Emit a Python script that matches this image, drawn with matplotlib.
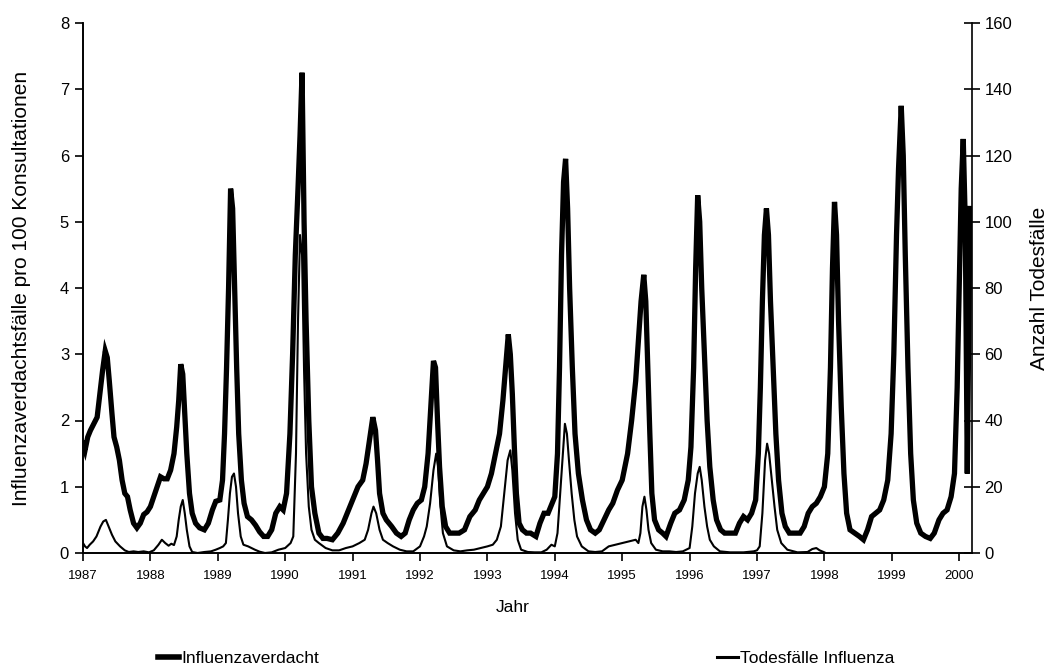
import matplotlib
matplotlib.use('Agg')
import matplotlib.pyplot as plt
from matplotlib.lines import Line2D

# Influenzaverdachtsfaelle pro 100 Konsultationen (linke Achse)
flu_year = [
    1987.00, 1987.03, 1987.07, 1987.11, 1987.16, 1987.21, 1987.25, 1987.29, 1987.33, 1987.36,
    1987.39, 1987.43, 1987.46, 1987.50, 1987.54, 1987.58, 1987.62, 1987.66, 1987.70, 1987.75,
    1987.80, 1987.85, 1987.90, 1987.95, 1988.00, 1988.05, 1988.10, 1988.15, 1988.20, 1988.25,
    1988.30, 1988.35, 1988.39, 1988.42, 1988.45, 1988.48, 1988.51, 1988.54, 1988.58, 1988.62,
    1988.67, 1988.73, 1988.80, 1988.86, 1988.92, 1988.97, 1989.03, 1989.07, 1989.10, 1989.13,
    1989.16, 1989.19, 1989.22, 1989.25, 1989.28, 1989.31, 1989.35, 1989.39, 1989.44, 1989.50,
    1989.56, 1989.62, 1989.68, 1989.74, 1989.80, 1989.86, 1989.92, 1989.97, 1990.02, 1990.07,
    1990.11, 1990.15, 1990.19, 1990.22, 1990.25, 1990.28, 1990.31, 1990.35, 1990.39, 1990.44,
    1990.50, 1990.56, 1990.62, 1990.70, 1990.78, 1990.86, 1990.94, 1991.00, 1991.08, 1991.15,
    1991.20, 1991.25, 1991.30, 1991.34, 1991.37, 1991.40, 1991.45, 1991.50, 1991.58, 1991.65,
    1991.72, 1991.78, 1991.84, 1991.90, 1991.96, 1992.02, 1992.07, 1992.12, 1992.16, 1992.20,
    1992.23, 1992.26, 1992.29, 1992.33, 1992.38, 1992.44, 1992.50, 1992.58, 1992.66, 1992.74,
    1992.82, 1992.88, 1992.94, 1993.00, 1993.06, 1993.12, 1993.18, 1993.23, 1993.27, 1993.31,
    1993.34, 1993.37, 1993.40, 1993.43, 1993.47, 1993.52, 1993.58, 1993.64, 1993.72, 1993.78,
    1993.84, 1993.90, 1993.96, 1994.00, 1994.04, 1994.07, 1994.10, 1994.13, 1994.16, 1994.19,
    1994.22, 1994.26, 1994.30, 1994.35, 1994.41, 1994.47, 1994.53, 1994.60, 1994.66, 1994.73,
    1994.80, 1994.86, 1994.93, 1995.00, 1995.08, 1995.14, 1995.20, 1995.24, 1995.28, 1995.32,
    1995.35, 1995.38, 1995.41, 1995.44, 1995.48, 1995.54, 1995.60, 1995.65, 1995.72, 1995.78,
    1995.85, 1995.92, 1995.98, 1996.02, 1996.06, 1996.09, 1996.12, 1996.15, 1996.18, 1996.22,
    1996.26, 1996.30, 1996.35, 1996.40, 1996.46, 1996.52, 1996.60, 1996.68, 1996.74, 1996.80,
    1996.86, 1996.92, 1996.98, 1997.02, 1997.05, 1997.08, 1997.11, 1997.14, 1997.17, 1997.20,
    1997.24, 1997.28, 1997.32, 1997.37, 1997.42, 1997.48, 1997.56, 1997.64, 1997.70, 1997.76,
    1997.82, 1997.88, 1997.94, 1998.00, 1998.05, 1998.09, 1998.12, 1998.15, 1998.18, 1998.21,
    1998.25, 1998.29, 1998.33, 1998.38, 1998.45, 1998.52, 1998.58, 1998.64, 1998.70, 1998.76,
    1998.82, 1998.88, 1998.94, 1998.99, 1999.03, 1999.07, 1999.10, 1999.14, 1999.17, 1999.20,
    1999.24, 1999.28, 1999.32, 1999.37, 1999.43, 1999.50, 1999.57, 1999.63, 1999.70, 1999.76,
    1999.82, 1999.88, 1999.93, 1999.97, 2000.00, 2000.03, 2000.06, 2000.09, 2000.12, 2000.16,
]
flu_value = [
    1.65, 1.55, 1.75, 1.85, 1.95, 2.05, 2.40, 2.75, 3.05, 2.95,
    2.60, 2.10, 1.75, 1.60, 1.40, 1.10, 0.90, 0.85, 0.65, 0.45,
    0.38, 0.45, 0.58, 0.62, 0.70, 0.85, 1.00, 1.15, 1.12, 1.12,
    1.25, 1.50, 1.90, 2.30, 2.85, 2.70, 2.10, 1.50, 0.90, 0.60,
    0.45, 0.38, 0.35, 0.45, 0.65, 0.78, 0.80, 1.10, 1.80, 2.80,
    4.00, 5.50, 5.20, 4.00, 2.80, 1.80, 1.10, 0.75, 0.55, 0.50,
    0.42, 0.32, 0.25, 0.25, 0.35, 0.60, 0.70, 0.65, 0.90, 1.80,
    3.00, 4.50, 5.50, 6.30, 7.25, 5.00, 3.50, 2.00, 1.00, 0.60,
    0.30, 0.22, 0.22, 0.20, 0.30, 0.45, 0.65, 0.80, 1.00, 1.10,
    1.35, 1.70, 2.05, 1.85, 1.40, 0.90, 0.60, 0.50, 0.40, 0.30,
    0.25, 0.30, 0.50, 0.65, 0.75, 0.80, 1.00, 1.50, 2.20, 2.90,
    2.80, 2.00, 1.30, 0.70, 0.40, 0.30, 0.30, 0.30, 0.35, 0.55,
    0.65, 0.80, 0.90, 1.00, 1.20, 1.50, 1.80, 2.30, 2.80, 3.30,
    3.00, 2.40, 1.60, 0.90, 0.45, 0.35, 0.30, 0.30, 0.25, 0.45,
    0.60, 0.60, 0.75, 0.85, 1.50, 2.80, 4.50, 5.60, 5.95, 5.20,
    4.00, 2.80, 1.80, 1.20, 0.80, 0.50, 0.35, 0.30, 0.35, 0.50,
    0.65, 0.75, 0.95, 1.10, 1.50, 2.00, 2.60, 3.20, 3.80, 4.20,
    3.80, 2.80, 1.80, 0.90, 0.50, 0.35, 0.30, 0.25, 0.45, 0.60,
    0.65, 0.80, 1.10, 1.60, 2.80, 4.30, 5.40, 5.00, 4.00, 3.00,
    2.00, 1.30, 0.80, 0.50, 0.35, 0.30, 0.30, 0.30, 0.45, 0.55,
    0.50, 0.60, 0.80, 1.50, 2.50, 3.80, 4.80, 5.20, 4.80, 3.80,
    2.80, 1.80, 1.10, 0.60, 0.40, 0.30, 0.30, 0.30, 0.40, 0.60,
    0.70, 0.75, 0.85, 1.00, 1.50, 2.80, 4.30, 5.30, 4.80, 3.50,
    2.20, 1.20, 0.60, 0.35, 0.30, 0.25, 0.20, 0.35, 0.55, 0.60,
    0.65, 0.80, 1.10, 1.80, 3.00, 4.80, 5.80, 6.75, 6.00, 4.50,
    2.80, 1.50, 0.80, 0.45, 0.30, 0.25, 0.22, 0.30, 0.50, 0.60,
    0.65, 0.85, 1.20, 2.50, 4.00, 5.50, 6.25, 5.00, 1.20, 5.20,
]

# Anzahl Todesfaelle Influenza (rechte Achse)
death_year = [
    1987.00, 1987.03, 1987.06, 1987.10, 1987.15, 1987.20, 1987.26, 1987.30, 1987.34, 1987.38,
    1987.43, 1987.48, 1987.55, 1987.62, 1987.68, 1987.75, 1987.82, 1987.90, 1987.98, 1988.05,
    1988.12, 1988.17, 1988.22, 1988.27, 1988.31, 1988.35, 1988.39, 1988.42, 1988.45, 1988.48,
    1988.51, 1988.54, 1988.58, 1988.62, 1988.70, 1988.80, 1988.90, 1988.97, 1989.03, 1989.08,
    1989.12, 1989.15, 1989.18, 1989.21, 1989.24, 1989.27, 1989.30, 1989.34, 1989.38, 1989.45,
    1989.55, 1989.62, 1989.70, 1989.80, 1989.90, 1990.00, 1990.08, 1990.12, 1990.16, 1990.19,
    1990.22, 1990.25, 1990.28, 1990.31, 1990.35, 1990.39, 1990.44, 1990.50, 1990.60, 1990.70,
    1990.80, 1990.90, 1991.00, 1991.10, 1991.18, 1991.23, 1991.28, 1991.31, 1991.35, 1991.40,
    1991.45, 1991.52, 1991.60, 1991.70, 1991.80, 1991.90, 1992.00, 1992.06, 1992.10, 1992.15,
    1992.20, 1992.24, 1992.27, 1992.30, 1992.34, 1992.40, 1992.50, 1992.60, 1992.70, 1992.80,
    1992.90, 1993.00, 1993.08, 1993.14, 1993.20, 1993.25, 1993.30, 1993.34, 1993.37, 1993.41,
    1993.45, 1993.50, 1993.60, 1993.70, 1993.80, 1993.88, 1993.95, 1994.00, 1994.04, 1994.08,
    1994.12, 1994.15, 1994.18, 1994.21, 1994.25, 1994.29, 1994.33, 1994.40, 1994.50, 1994.60,
    1994.70, 1994.80, 1994.90, 1995.00, 1995.10, 1995.20, 1995.24, 1995.27, 1995.30, 1995.33,
    1995.36, 1995.39, 1995.43, 1995.50, 1995.60, 1995.70, 1995.80, 1995.90, 1996.00, 1996.04,
    1996.08, 1996.12, 1996.15, 1996.18, 1996.22, 1996.26, 1996.30, 1996.36, 1996.45, 1996.60,
    1996.80, 1996.95, 1997.00, 1997.04, 1997.08, 1997.12, 1997.15, 1997.18, 1997.22, 1997.26,
    1997.30, 1997.36, 1997.45, 1997.60, 1997.75, 1997.82, 1997.88, 1997.93, 1998.00,
]
death_value = [
    3.0, 2.0, 1.5, 2.5, 3.5, 5.0, 8.0, 9.5, 10.0, 8.0,
    5.5, 3.5, 2.0, 0.8, 0.3, 0.5, 0.3, 0.5, 0.2, 0.8,
    2.5, 4.0, 3.0, 2.2, 2.8, 2.4, 5.0, 10.0, 14.0, 16.0,
    12.0, 7.0, 2.0, 0.3, 0.0, 0.3, 0.5, 1.0, 1.5, 2.0,
    3.0, 10.0, 18.0, 23.0, 24.0, 20.0, 12.0, 5.0, 2.5, 2.0,
    1.0, 0.4, 0.0, 0.2, 1.0, 1.5, 3.0, 5.0, 30.0, 70.0,
    96.0, 90.0, 55.0, 30.0, 14.0, 7.0, 4.0, 3.0, 1.5, 0.8,
    0.8, 1.5, 2.0, 3.0, 4.0, 7.0, 12.0, 14.0, 12.0, 7.0,
    4.0, 3.0, 2.0, 1.0, 0.5, 0.5, 2.0, 5.0, 8.0, 15.0,
    25.0, 30.0, 26.0, 15.0, 6.0, 2.0, 0.8, 0.5, 0.8, 1.0,
    1.5, 2.0, 2.5, 4.0, 8.0, 18.0, 28.0, 31.0, 25.0, 12.0,
    4.0, 1.0, 0.3, 0.2, 0.2, 1.0, 2.5, 2.0, 6.0, 18.0,
    30.0, 39.0, 36.0, 28.0, 18.0, 10.0, 5.0, 2.0, 0.5, 0.3,
    0.5, 2.0, 2.5, 3.0, 3.5, 4.0, 3.0, 6.0, 14.0, 17.0,
    13.0, 7.0, 3.0, 1.0, 0.5, 0.5, 0.3, 0.5, 1.5, 8.0,
    18.0, 24.0, 26.0, 22.0, 14.0, 8.0, 4.0, 2.0, 0.5, 0.2,
    0.2, 0.5, 0.8, 2.0, 12.0, 28.0, 33.0, 30.0, 22.0, 14.0,
    7.0, 3.0, 1.0, 0.2, 0.3, 1.2, 1.5, 0.8, 0.2,
]

year_ticks = list(range(1987, 2001))
left_ticks = [0, 1, 2, 3, 4, 5, 6, 7, 8]
right_ticks = [0, 20, 40, 60, 80, 100, 120, 140, 160]

plt.rcParams['font.family'] = ['Liberation Sans', 'DejaVu Sans']

fig = plt.figure(figsize=(10.48, 6.71), dpi=100)
fig.patch.set_facecolor('white')
ax = fig.add_axes([83 / 1048, 1 - 553 / 671, (972 - 83) / 1048, (553 - 23) / 671])
ax2 = ax.twinx()

ax.plot(flu_year, flu_value, color='black', linewidth=3.8,
        solid_joinstyle='miter', label='Influenzaverdacht')
ax2.plot(death_year, death_value, color='black', linewidth=1.5,
         label='Todesfälle Influenza')

ax.set_xlim(1987, 2000.19)
ax.set_ylim(0, 8)
ax2.set_ylim(0, 160)
ax.set_xticks(year_ticks)
ax.set_yticks(left_ticks)
ax2.set_yticks(right_ticks)

for a in (ax, ax2):
    a.spines['top'].set_visible(False)
    for s in a.spines.values():
        s.set_linewidth(1.2)
ax.spines['right'].set_visible(False)

ax.tick_params(axis='x', direction='out', length=6, width=1.2, labelsize=9.5, pad=6)
ax.tick_params(axis='y', direction='out', length=6, width=1.2, labelsize=12, pad=4)
ax2.tick_params(axis='y', direction='inout', length=12, width=1.2, labelsize=12, pad=3)

ax.set_xlabel('Jahr', fontsize=12.5)
ax.xaxis.set_label_coords(0.483, -0.088)
ax.set_ylabel('Influenzaverdachtsfälle pro 100 Konsultationen', fontsize=15)
ax.yaxis.set_label_coords(-0.059, 0.5)
ax2.set_ylabel('Anzahl Todesfälle', fontsize=15)
ax2.yaxis.set_label_coords(1.065, 0.5)

h1 = Line2D([], [], color='black', linewidth=4)
h2 = Line2D([], [], color='black', linewidth=2.2)
fig.legend([h1], ['Influenzaverdacht'], loc='center left',
           bbox_to_anchor=(158 / 1048, 1 - 658 / 671), frameon=False,
           fontsize=12.5, handlelength=1.2, handletextpad=0.15, borderpad=0,
           borderaxespad=0)
fig.legend([h2], ['Todesfälle Influenza'], loc='center left',
           bbox_to_anchor=(717 / 1048, 1 - 658 / 671), frameon=False,
           fontsize=12.5, handlelength=1.2, handletextpad=0.15, borderpad=0,
           borderaxespad=0)

fig.savefig('out.png', dpi=100)
